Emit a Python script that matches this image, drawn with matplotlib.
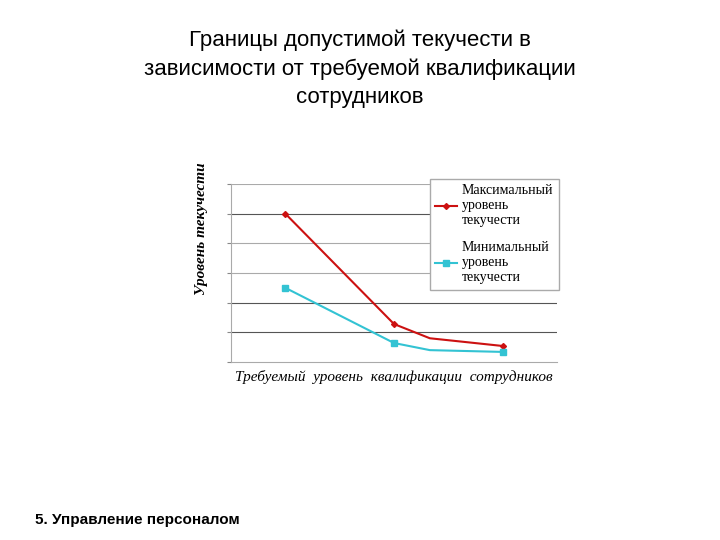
import matplotlib
matplotlib.use("Agg")
import matplotlib.pyplot as plt

x_max = [1, 2, 2.33, 3]
y_max = [5.0, 1.28, 0.8, 0.54]
x_min = [1, 2, 2.33, 3]
y_min = [2.5, 0.64, 0.4, 0.34]
label_max = "Максимальный\nуровень\nтекучести"
label_min = "Минимальный\nуровень\nтекучести"

fig = plt.figure(figsize=(7.2, 5.4), dpi=100)
fig.text(0.5, 0.945, "Границы допустимой текучести в\nзависимости от требуемой квалификации\nсотрудников",
         ha="center", va="top", fontsize=16, family="Liberation Sans", linespacing=1.45)
fig.text(0.048, 0.03, "5. Управление персоналом", fontsize=11, family="Liberation Sans", fontweight="bold")

ax = fig.add_axes([231/720, 1-362/540, 326/720, 178/540])
ax.set_xlim(0.5, 3.5)
ax.set_ylim(0, 6)
ax.set_yticks(range(7))
ax.set_yticklabels([])
ax.set_xticks([])
for y, c in zip(range(1, 7), ["#555", "#555", "#aaa", "#aaa", "#555", "#aaa"]):
    ax.axhline(y, color=c, lw=0.8, zorder=0)
for s in ["top", "right"]:
    ax.spines[s].set_visible(False)
ax.spines["left"].set_color("#aaa")
ax.spines["bottom"].set_color("#aaa")
ax.tick_params(axis="y", length=3, color="#888")

ax.plot(x_max, y_max, color="#cc1111", lw=1.5, marker="D", ms=3, markevery=[0, 1, 3], label=label_max)
ax.plot(x_min, y_min, color="#33c3d3", lw=1.5, marker="s", ms=4, markevery=[0, 1, 3], label=label_min)

leg = ax.legend(loc="upper right", bbox_to_anchor=(1.005, 1.03), fancybox=False, framealpha=1,
                edgecolor="#aaa", prop={"family": "Liberation Serif", "size": 10}, handlelength=1.6,
                handletextpad=0.3, labelspacing=1.0, borderpad=0.4, borderaxespad=0)
ax.set_xlabel("Требуемый  уровень  квалификации  сотрудников", family="Liberation Serif",
              style="italic", fontsize=11, labelpad=6)
ax.set_ylabel("Уровень текучести", family="Liberation Serif", style="italic",
              fontweight="bold", fontsize=11, labelpad=4)
ax.yaxis.set_label_coords(-0.07, 0.75)
fig.savefig("out.png", dpi=100)
